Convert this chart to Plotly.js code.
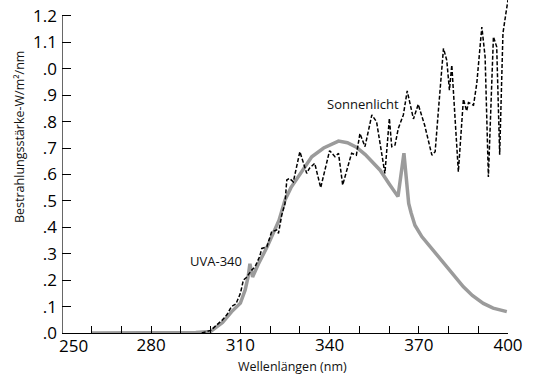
<!DOCTYPE html>
<html>
<head>
<meta charset="utf-8">
<script src="https://cdn.plot.ly/plotly-3.0.1.min.js"></script>
<style>
html,body{margin:0;padding:0;background:#fff;}
#chart{width:534px;height:375px;}
</style>
</head>
<body>
<div id="chart"></div>
<script>
// UVA-340 lamp spectrum (grey solid)
var uvaX = [260, 270, 280, 290, 295, 300, 304, 307, 310, 311.6, 312.6, 313.2, 314.1, 316, 319, 323, 325, 327, 330, 334, 338, 343, 346, 349, 352, 354.6, 357, 360, 363, 365, 366.6, 367.4, 368.7, 371, 373.8, 376.5, 379.4, 382, 385, 388, 391.7, 395, 399.6];
var uvaY = [0, 0, 0, 0, 0.002, 0.006, 0.04, 0.08, 0.113, 0.163, 0.213, 0.262, 0.212, 0.26, 0.326, 0.427, 0.503, 0.55, 0.6, 0.667, 0.7, 0.726, 0.72, 0.703, 0.675, 0.643, 0.616, 0.565, 0.516, 0.68, 0.49, 0.455, 0.408, 0.365, 0.326, 0.288, 0.251, 0.215, 0.175, 0.142, 0.112, 0.094, 0.081];

// Sunlight spectrum (black dashed)
var sunX = [297, 300, 302, 304, 305.5, 307, 308.5, 310, 311, 312, 313.8, 314.9, 316.5, 317.2, 318.9, 320.5, 322.2, 322.8, 323.9, 325, 325.6, 326.5, 327.8, 330, 332.3, 333.2, 335, 337, 340, 341.8, 343, 344.4, 347.4, 349, 350.2, 351.9, 354.2, 355.8, 358.6, 360.1, 360.9, 362, 363.1, 364.8, 366.1, 368.2, 369.8, 372, 374.4, 375.5, 376.6, 378.3, 379.4, 380.3, 381.1, 383.3, 385, 386.1, 386.7, 388.4, 389.5, 391.2, 392.3, 393.4, 395.1, 396.2, 397.2, 398.3, 399.3, 400];
var sunY = [0, 0.01, 0.03, 0.05, 0.07, 0.1, 0.11, 0.15, 0.2, 0.21, 0.238, 0.25, 0.29, 0.32, 0.326, 0.383, 0.39, 0.377, 0.446, 0.49, 0.579, 0.585, 0.572, 0.686, 0.604, 0.623, 0.642, 0.55, 0.69, 0.667, 0.68, 0.56, 0.68, 0.673, 0.755, 0.705, 0.825, 0.799, 0.604, 0.812, 0.705, 0.711, 0.774, 0.825, 0.916, 0.81, 0.865, 0.785, 0.673, 0.686, 0.843, 1.077, 1.032, 0.919, 1.014, 0.61, 0.885, 0.84, 0.872, 0.862, 0.944, 1.158, 1.045, 0.59, 1.121, 1.083, 0.675, 1.134, 1.21, 1.26];

// Axis ticks
var xTickVals = [250, 260, 270, 280, 290, 300, 310, 320, 330, 340, 350, 360, 370, 380, 390, 400];
var xTickText = ['', '', '', '280', '', '', '310', '', '', '340', '', '', '370', '', '', '400'];
var yTickVals = [0, 0.1, 0.2, 0.3, 0.4, 0.5, 0.6, 0.7, 0.8, 0.9, 1.0, 1.1, 1.2];
var yTickText = ['.0', '.1', '.2', '.3', '.4', '.5', '.6', '.7', '.8', '.9', '.0', '1.1', '1.2'];

var FONT = 'Open Sans, Noto Sans, sans-serif';

var traces = [
  {
    x: uvaX, y: uvaY, type: 'scatter', mode: 'lines',
    line: {color: '#9b9b9b', width: 3.5, shape: 'linear'},
    hoverinfo: 'skip', showlegend: false
  },
  {
    x: sunX, y: sunY, type: 'scatter', mode: 'lines',
    line: {color: '#000000', width: 1.5, dash: '4px,2px'},
    hoverinfo: 'skip', showlegend: false
  }
];

var layout = {
  width: 534, height: 375,
  margin: {l: 62, r: 26, t: 0, b: 42, pad: 0},
  paper_bgcolor: '#ffffff', plot_bgcolor: '#ffffff',
  font: {family: FONT, color: '#000', size: 17},
  showlegend: false,
  xaxis: {
    range: [250, 400], tickmode: 'array', tickvals: xTickVals, ticktext: xTickText,
    ticks: 'inside', ticklen: 7, tickwidth: 1, tickcolor: '#000',
    showline: true, linecolor: '#000', linewidth: 1.2, mirror: false,
    showgrid: false, zeroline: false, tickfont: {size: 17, family: FONT},
    ticklabelstandoff: -4
  },
  yaxis: {
    range: [0, 1.26], tickmode: 'array', tickvals: yTickVals, ticktext: yTickText,
    ticks: 'inside', ticklen: 9, tickwidth: 1, tickcolor: '#000',
    showline: false, showgrid: false, zeroline: false,
    tickfont: {size: 17, family: FONT}, ticklabelstandoff: 4
  },
  shapes: [
    {type: 'line', xref: 'x', yref: 'y', x0: 250, x1: 250, y0: 0, y1: 1.2,
     line: {color: '#000', width: 1.2}}
  ],
  annotations: [
    {text: 'Sonnenlicht', xref: 'paper', yref: 'paper', x: (363 - 62) / 446, y: (333 - 104) / 333,
     showarrow: false, font: {size: 13, family: FONT, color: '#111'}, xanchor: 'center', yanchor: 'middle'},
    {text: 'UVA-340', xref: 'paper', yref: 'paper', x: (216 - 62) / 446, y: (333 - 261) / 333,
     showarrow: false, font: {size: 13, family: FONT, color: '#111'}, xanchor: 'center', yanchor: 'middle'},
    {text: 'Bestrahlungsstärke-W/m²/nm', xref: 'paper', yref: 'paper', x: (19 - 62) / 446, y: (333 - 137) / 333,
     textangle: -90, showarrow: false, font: {size: 12.5, family: FONT, color: '#111'}, xanchor: 'center', yanchor: 'middle'},
    {text: 'Wellenlängen (nm)', xref: 'paper', yref: 'paper', x: (292 - 62) / 446, y: (333 - 366) / 333,
     showarrow: false, font: {size: 12.5, family: FONT, color: '#111'}, xanchor: 'center', yanchor: 'middle'},
    {text: '250', xref: 'paper', yref: 'paper', x: (73 - 62) / 446, y: (333 - 345) / 333,
     showarrow: false, font: {size: 17, family: FONT, color: '#000'}, xanchor: 'center', yanchor: 'middle'}
  ]
};

Plotly.newPlot('chart', traces, layout, {staticPlot: true, displayModeBar: false});
</script>
</body>
</html>
